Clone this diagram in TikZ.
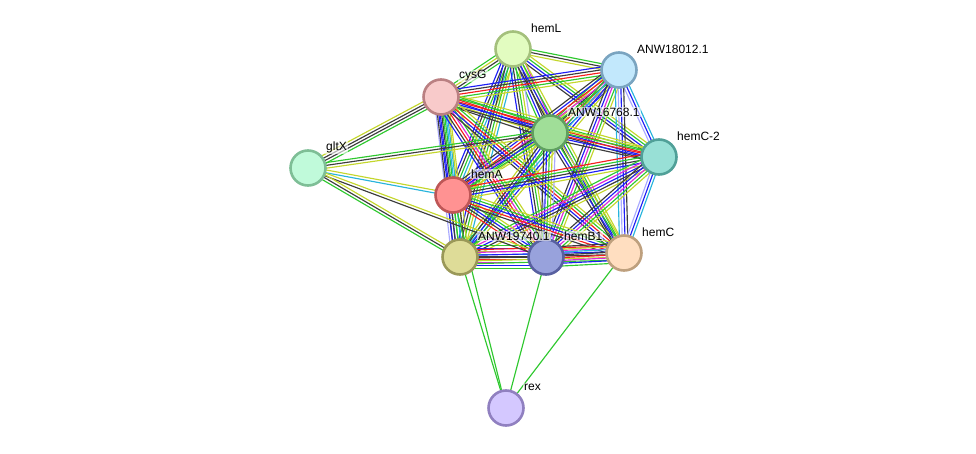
\documentclass[tikz,border=0pt]{standalone}
\usepackage{fontspec}
\setmainfont{Liberation Sans}
\usetikzlibrary{calc}
\pgfdeclarelayer{bg}
\pgfsetlayers{bg,main}
\definecolor{sgreen}{RGB}{46,200,46}
\definecolor{sblue}{RGB}{30,30,245}
\definecolor{sblack}{RGB}{60,60,60}
\definecolor{syellow}{RGB}{196,214,44}
\definecolor{sred}{RGB}{245,30,30}
\definecolor{smag}{RGB}{220,40,220}
\definecolor{scyan}{RGB}{40,180,220}
\definecolor{slav}{RGB}{170,170,255}
\tikzset{
  edge/.style={line width=1.15pt},
  prot/.style={circle, minimum size=35pt, inner sep=0pt, line width=2.6pt},
  lab/.style={anchor=west, font=\fontsize{12}{14}\selectfont, fill=white, fill opacity=0.6, text opacity=1, inner sep=1pt}
}
\newcommand\bund[4]{%
  \foreach \cc [count=\ii] in {#4} {%
    \pgfmathsetmacro\off{(\ii-(#3+1)/2)*2.8}%
    \draw[edge,\cc] ($(#1)!\off pt!90:(#2)$) -- ($(#2)!\off pt!-90:(#1)$);
  }}
\begin{document}
\begin{tikzpicture}[x=1pt,y=-1pt]
\useasboundingbox (0,0) rectangle (976,454);
\node[prot, fill={rgb,255:red,226;green,252;blue,192}, draw={rgb,255:red,164;green,192;blue,124}] (L) at (513,49) {};
\node[prot, fill={rgb,255:red,194;green,232;blue,252}, draw={rgb,255:red,122;green,164;blue,192}] (F) at (619,70) {};
\node[prot, fill={rgb,255:red,248;green,202;blue,202}, draw={rgb,255:red,186;green,128;blue,130}] (G) at (441,97) {};
\node[prot, fill={rgb,255:red,160;green,222;blue,152}, draw={rgb,255:red,96;green,160;blue,96}] (M) at (550,133) {};
\node[prot, fill={rgb,255:red,152;green,224;blue,214}, draw={rgb,255:red,80;green,160;blue,152}] (C2) at (659,157) {};
\node[prot, fill={rgb,255:red,192;green,250;blue,218}, draw={rgb,255:red,126;green,190;blue,150}] (X) at (308,168) {};
\node[prot, fill={rgb,255:red,255;green,146;blue,146}, draw={rgb,255:red,190;green,86;blue,86}] (A) at (453,195) {};
\node[prot, fill={rgb,255:red,222;green,220;blue,152}, draw={rgb,255:red,154;green,152;blue,88}] (W) at (460,257) {};
\node[prot, fill={rgb,255:red,152;green,162;blue,220}, draw={rgb,255:red,88;green,96;blue,160}] (B) at (546,257) {};
\node[prot, fill={rgb,255:red,255;green,222;blue,192}, draw={rgb,255:red,190;green,160;blue,126}] (C) at (624,253) {};
\node[prot, fill={rgb,255:red,212;green,200;blue,255}, draw={rgb,255:red,144;green,128;blue,192}] (R) at (506,408) {};
\begin{pgfonlayer}{bg}
\bund{L}{F}{3}{syellow,sblack,sgreen}
\bund{L}{G}{4}{sgreen,syellow,sblack,sgreen}
\bund{L}{M}{5}{sgreen,sblue,sblack,syellow,smag}
\bund{L}{C2}{4}{sblack,sblue,sgreen,syellow}
\bund{L}{A}{5}{sblue,sblack,sgreen,scyan,syellow}
\bund{L}{W}{5}{sblue,sblack,sgreen,syellow,scyan}
\bund{L}{B}{5}{sblue,sblack,sgreen,syellow,slav}
\bund{L}{C}{4}{sblack,sblue,sgreen,syellow}
\bund{F}{G}{5}{sblue,sblack,sred,sgreen,syellow}
\bund{F}{M}{6}{sgreen,syellow,sblack,sred,smag,sblue}
\bund{F}{C2}{3}{slav,sblue,scyan}
\bund{F}{A}{6}{sblack,sblue,sred,smag,sgreen,syellow}
\bund{F}{W}{4}{sgreen,scyan,sblue,syellow}
\bund{F}{B}{5}{sblack,sblue,smag,sgreen,syellow}
\bund{F}{C}{4}{scyan,slav,sblue,sblack}
\bund{G}{M}{5}{sblack,syellow,sblue,sred,sgreen}
\bund{G}{C2}{5}{sblack,sblue,sred,sgreen,syellow}
\bund{G}{A}{6}{slav,sblue,sblack,sgreen,scyan,syellow}
\bund{G}{W}{5}{sblack,sblue,sgreen,scyan,syellow}
\bund{G}{B}{6}{sblue,sblack,sred,smag,sgreen,syellow}
\bund{G}{C}{5}{sblack,sblue,sred,sgreen,syellow}
\bund{M}{C2}{5}{sblack,sblue,sred,sgreen,syellow}
\bund{M}{A}{4}{sblack,sblue,sgreen,syellow}
\bund{M}{W}{4}{syellow,sblack,sblue,sgreen}
\bund{M}{B}{5}{sblack,sblue,sgreen,syellow,slav}
\bund{M}{C}{4}{sblack,sblue,sgreen,syellow}
\bund{C2}{A}{5}{sred,sgreen,sblack,sblue,syellow}
\bund{C2}{W}{5}{sgreen,smag,sblue,sblack,syellow}
\bund{C2}{B}{5}{sblack,sblue,smag,sgreen,syellow}
\bund{C2}{C}{3}{slav,sblue,scyan}
\bund{A}{W}{7}{slav,sblue,sblack,sgreen,scyan,sblack,syellow}
\bund{A}{B}{5}{sred,sblack,sblue,sgreen,syellow}
\bund{A}{C}{5}{sblack,sred,sblue,sgreen,syellow}
\bund{W}{B}{9}{sgreen,sblue,smag,sred,sblack,scyan,syellow,sblue,sgreen}
\bund{W}{C}{6}{sgreen,syellow,sblack,sblue,smag,sred}
\bund{B}{C}{8}{sgreen,sblue,smag,sred,sblack,scyan,syellow,sblack}
\bund{X}{G}{4}{sgreen,sblack,sblack,syellow}
\bund{X}{M}{3}{syellow,sblack,sgreen}
\bund{X}{A}{2}{scyan,syellow}
\bund{X}{B}{2}{sblack,syellow}
\bund{X}{W}{3}{sgreen,sblack,syellow}
\bund{R}{A}{1}{sgreen}
\bund{R}{W}{1}{sgreen}
\bund{R}{B}{1}{sgreen}
\bund{R}{C}{1}{sgreen}
\end{pgfonlayer}
\node[lab] (lL) at ($(L)+(17,-21)$) {hemL};
\node[lab] (lF) at ($(F)+(17,-21)$) {ANW18012.1};
\node[lab] (lG) at ($(G)+(17,-21)$) {cysG};
\node[lab] (lM) at ($(M)+(17,-21)$) {ANW16768.1};
\node[lab] (lC2) at ($(C2)+(17,-21)$) {hemC-2};
\node[lab] (lX) at ($(X)+(17,-21)$) {gltX};
\node[lab] (lA) at ($(A)+(17,-21)$) {hemA};
\node[lab] (lW) at ($(W)+(17,-21)$) {ANW19740.1};
\node[lab] (lB) at ($(B)+(17,-21)$) {hemB1};
\node[lab] (lC) at ($(C)+(17,-21)$) {hemC};
\node[lab] (lR) at ($(R)+(17,-21)$) {rex};
\end{tikzpicture}
\end{document}
